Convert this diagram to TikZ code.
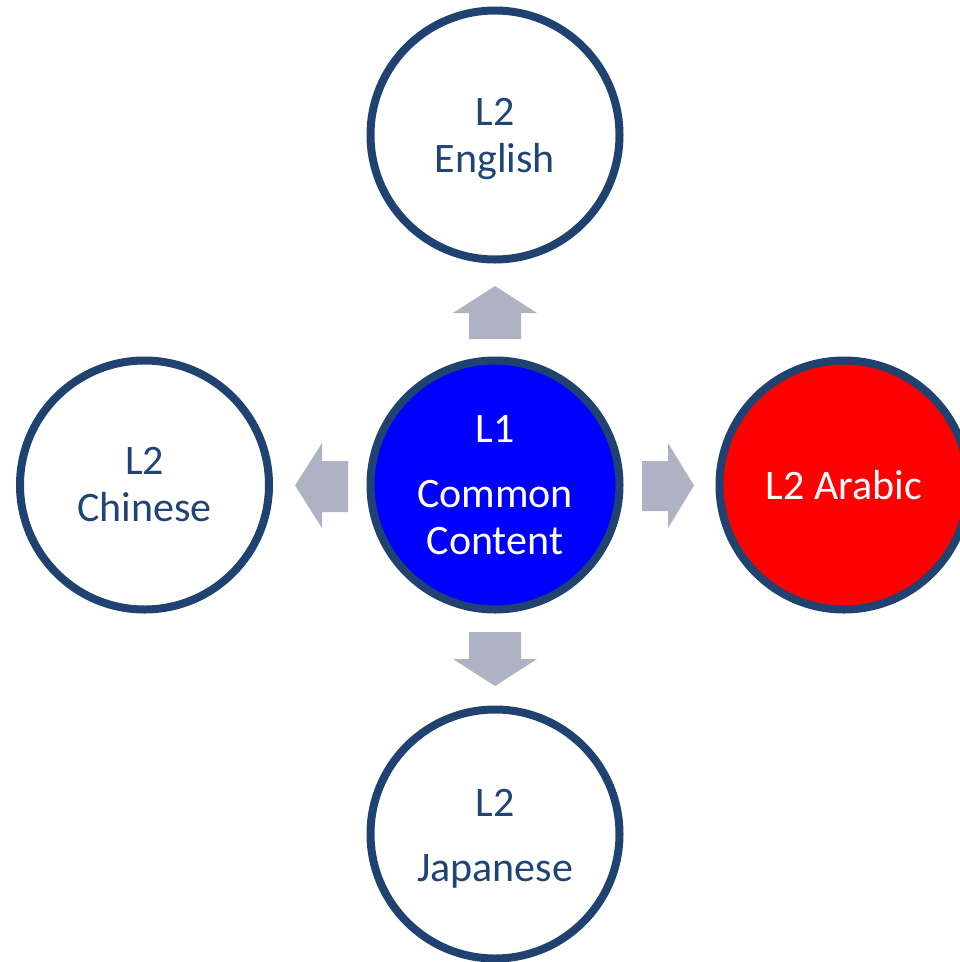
\documentclass[tikz,border=0pt]{standalone}
\usepackage{fontspec}
\setmainfont{Carlito}
\definecolor{ringblue}{RGB}{31,66,113}
\definecolor{txtblue}{RGB}{31,68,118}
\definecolor{arrowgray}{RGB}{173,179,194}
\newcommand{\padtop}{\rule{0pt}{36pt}}
\begin{document}
\begin{tikzpicture}[x=1pt,y=-1pt,
  bubble/.style={circle,draw=ringblue,line width=8pt,minimum size=249pt,inner sep=0pt,align=center,
    font=\fontsize{42}{47}\selectfont},
  plain/.style={bubble,fill=white,text=txtblue},
  blockarrow/.style={fill=arrowgray}]
\useasboundingbox (0,0) rectangle (960,962);
% circles
\node[plain] (en) at (495,135) {\padtop L2\\English};
\node[plain] (ch) at (144.5,485) {L2\\Chinese};
\node[plain] (ja) at (495,834) {\padtop L2\\[18pt]Japanese};
\node[bubble,fill=red,text=white] (ar) at (844,485) {L2 Arabic};
\node[bubble,fill=blue,text=white] (l1) at (495,485) {L1\\[18pt]Common\\Content};
% block arrows
\fill[blockarrow] (469,339) -- (469,313) -- (453,313) -- (495,286) -- (537,313) -- (521,313) -- (521,339) -- cycle;
\fill[blockarrow] (469,632) -- (469,659) -- (453,659) -- (495,686) -- (537,659) -- (521,659) -- (521,632) -- cycle;
\fill[blockarrow] (348,461) -- (322,461) -- (322,443) -- (295,485.5) -- (322,528) -- (322,512) -- (348,512) -- cycle;
\fill[blockarrow] (642,461) -- (668,461) -- (668,443) -- (694,485.5) -- (668,528) -- (668,511) -- (642,511) -- cycle;
\end{tikzpicture}
\end{document}
